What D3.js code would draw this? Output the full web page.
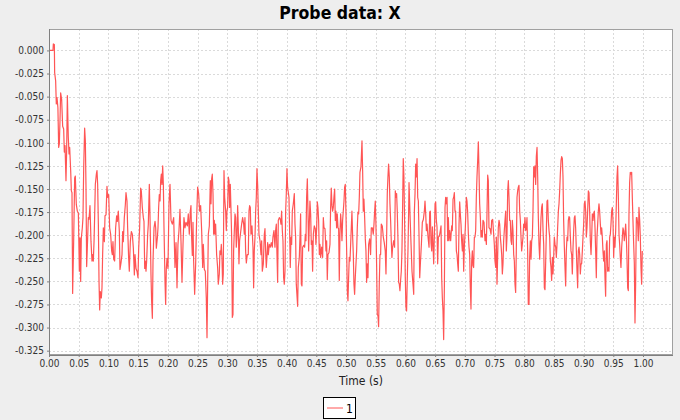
<!DOCTYPE html>
<html><head><meta charset="utf-8">
<script src="https://cdn.jsdelivr.net/npm/d3@7"></script>
<style>
html,body{margin:0;padding:0;background:#eeeeee;}
svg{display:block;}
</style></head>
<body>
<svg id="chart" width="680" height="420"></svg>
<script>
const chartTitle = "Probe data: X";
const xLabel = "Time (s)";
const seriesName = "1";
const xTicks = d3.range(0, 21).map(i => i * 0.05);
const yTicks = d3.range(0, 14).map(i => -i * 0.025);

// [time (s), value]
const seg1 = [[0,0],[0.0067,0],[0.0073,0.007],[0.009,0.0065],[0.0095,-0.024],[0.0112,-0.033],[0.0123,-0.058],[0.0135,-0.051],[0.015,-0.062],[0.0163,-0.105],[0.0174,-0.101],[0.0185,-0.076],[0.0196,-0.046],[0.0213,-0.053],[0.023,-0.082],[0.0247,-0.085],[0.0258,-0.11],[0.027,-0.103],[0.0286,-0.141],[0.0297,-0.109],[0.0309,-0.049],[0.0325,-0.094],[0.0337,-0.112],[0.0348,-0.105],[0.0365,-0.13],[0.0376,-0.152],[0.0387,-0.154],[0.0398,-0.263],[0.0415,-0.207],[0.0432,-0.138],[0.0443,-0.136],[0.046,-0.167],[0.0477,-0.174],[0.0494,-0.176],[0.0511,-0.239],[0.0522,-0.203],[0.0533,-0.25],[0.0544,-0.203],[0.0561,-0.192],[0.0572,-0.181],[0.0584,-0.127],[0.06,-0.084],[0.0612,-0.098],[0.0623,-0.149],[0.0634,-0.234],[0.0645,-0.214],[0.0662,-0.181],[0.0673,-0.183],[0.069,-0.168],[0.0707,-0.207],[0.0724,-0.228],[0.0735,-0.221],[0.0746,-0.228],[0.0758,-0.207],[0.0769,-0.178],[0.078,-0.145],[0.0797,-0.134],[0.0808,-0.13],[0.0819,-0.145],[0.0831,-0.188],[0.0842,-0.25],[0.0853,-0.281],[0.0864,-0.261],[0.0881,-0.268],[0.0892,-0.257],[0.0903,-0.221],[0.0915,-0.192],[0.0932,-0.207],[0.0943,-0.179],[0.096,-0.178],[0.0976,-0.147],[0.0988,-0.159],[0.1005,-0.156],[0.1021,-0.192],[0.1038,-0.199],[0.1055,-0.217],[0.1066,-0.221],[0.1077,-0.207],[0.1089,-0.226],[0.1105,-0.228],[0.1122,-0.192],[0.1139,-0.179],[0.115,-0.185],[0.1167,-0.174],[0.1184,-0.196],[0.1195,-0.237],[0.1212,-0.23],[0.1229,-0.221],[0.124,-0.196],[0.1251,-0.207],[0.1268,-0.181],[0.1285,-0.167],[0.1296,-0.154],[0.1313,-0.163],[0.1324,-0.192],[0.1341,-0.225],[0.1352,-0.239],[0.1369,-0.207],[0.1386,-0.196],[0.1403,-0.199],[0.142,-0.214],[0.1437,-0.243],[0.1448,-0.221],[0.1465,-0.236],[0.1481,-0.239],[0.1498,-0.246],[0.151,-0.214],[0.1526,-0.192],[0.1543,-0.149],[0.1554,-0.152],[0.1571,-0.17],[0.1588,-0.181],[0.1599,-0.185],[0.1611,-0.236],[0.1622,-0.228],[0.1633,-0.239],[0.1644,-0.228],[0.1661,-0.199],[0.1672,-0.188],[0.1689,-0.145],[0.17,-0.178],[0.1717,-0.243],[0.1728,-0.272],[0.174,-0.29],[0.1751,-0.228],[0.1768,-0.192],[0.1785,-0.185],[0.1796,-0.192],[0.1807,-0.214],[0.1824,-0.203],[0.1835,-0.192],[0.1846,-0.17],[0.1857,-0.156],[0.1869,-0.163],[0.188,-0.141],[0.1891,-0.134],[0.1902,-0.145],[0.1914,-0.125],[0.1925,-0.145],[0.1936,-0.192],[0.1953,-0.25],[0.1964,-0.275],[0.1975,-0.236],[0.1987,-0.225],[0.2003,-0.236]];

const seg2 = [[0.2020,-0.166],[0.2037,-0.145],[0.2054,-0.184],[0.2076,-0.188],[0.2099,-0.181],[0.2121,-0.235],[0.2138,-0.208],[0.2155,-0.257],[0.2171,-0.210],[0.2188,-0.195],[0.2205,-0.172],[0.2222,-0.206],[0.2239,-0.251],[0.2256,-0.210],[0.2272,-0.181],[0.2289,-0.192],[0.2306,-0.186],[0.2329,-0.190],[0.2345,-0.177],[0.2362,-0.199],[0.2379,-0.174],[0.2390,-0.168],[0.2401,-0.202],[0.2413,-0.222],[0.2424,-0.186],[0.2435,-0.228],[0.2452,-0.264],[0.2469,-0.231],[0.2486,-0.181],[0.2502,-0.148],[0.2519,-0.155],[0.2536,-0.174],[0.2553,-0.168],[0.2570,-0.195],[0.2587,-0.235],[0.2598,-0.210],[0.2615,-0.237],[0.2631,-0.239],[0.2648,-0.268],[0.2660,-0.311],[0.2671,-0.253],[0.2682,-0.199],[0.2699,-0.190],[0.2716,-0.141],[0.2727,-0.166],[0.2738,-0.139],[0.2749,-0.134],[0.2761,-0.155],[0.2772,-0.199],[0.2783,-0.184],[0.2794,-0.199],[0.2805,-0.188],[0.2822,-0.221],[0.2839,-0.235],[0.2850,-0.253],[0.2867,-0.242],[0.2878,-0.217],[0.2890,-0.221],[0.2901,-0.210],[0.2912,-0.224],[0.2923,-0.253],[0.2934,-0.242],[0.2946,-0.130],[0.2957,-0.159],[0.2974,-0.174],[0.2985,-0.195],[0.2996,-0.174],[0.3007,-0.170],[0.3019,-0.137],[0.3030,-0.141],[0.3041,-0.170],[0.3052,-0.145],[0.3063,-0.170],[0.3075,-0.202],[0.3086,-0.289],[0.3097,-0.286],[0.3108,-0.217],[0.3120,-0.195],[0.3131,-0.177],[0.3142,-0.181],[0.3153,-0.213],[0.3164,-0.202],[0.3176,-0.168],[0.3187,-0.192],[0.3198,-0.231],[0.3209,-0.206],[0.3226,-0.197],[0.3243,-0.188],[0.3260,-0.181],[0.3277,-0.188],[0.3288,-0.199],[0.3299,-0.181],[0.3310,-0.217],[0.3322,-0.230],[0.3338,-0.221],[0.3355,-0.221],[0.3367,-0.174],[0.3378,-0.168],[0.3389,-0.170],[0.3400,-0.199],[0.3417,-0.190],[0.3434,-0.213],[0.3445,-0.257],[0.3456,-0.217],[0.3468,-0.202],[0.3479,-0.174],[0.3490,-0.159],[0.3501,-0.128],[0.3513,-0.146],[0.3524,-0.174],[0.3535,-0.199],[0.3552,-0.206],[0.3569,-0.221],[0.3580,-0.206],[0.3591,-0.239],[0.3608,-0.231],[0.3625,-0.199],[0.3636,-0.193],[0.3647,-0.217],[0.3658,-0.235],[0.3669,-0.224],[0.3681,-0.208],[0.3692,-0.221],[0.3709,-0.210],[0.3726,-0.213],[0.3742,-0.208],[0.3759,-0.213],[0.3770,-0.202],[0.3787,-0.195],[0.3804,-0.213],[0.3815,-0.195],[0.3827,-0.188],[0.3838,-0.221],[0.3849,-0.251],[0.3860,-0.184],[0.3877,-0.181],[0.3894,-0.183],[0.3905,-0.188],[0.3916,-0.174],[0.3928,-0.195],[0.3939,-0.206],[0.3950,-0.246],[0.3961,-0.253],[0.3973,-0.239],[0.3984,-0.174],[0.3995,-0.155],[0.4006,-0.128],[0.4017,-0.148]];

const seg3 = [[0.4040,-0.159],[0.4062,-0.235],[0.4074,-0.202],[0.4085,-0.210],[0.4096,-0.174],[0.4113,-0.166],[0.4130,-0.155],[0.4141,-0.188],[0.4152,-0.202],[0.4163,-0.253],[0.4186,-0.277],[0.4197,-0.235],[0.4214,-0.224],[0.4225,-0.202],[0.4236,-0.177],[0.4248,-0.253],[0.4259,-0.255],[0.4270,-0.213],[0.4287,-0.211],[0.4304,-0.213],[0.4315,-0.199],[0.4326,-0.206],[0.4337,-0.159],[0.4349,-0.139],[0.4360,-0.174],[0.4371,-0.217],[0.4382,-0.188],[0.4393,-0.163],[0.4405,-0.177],[0.4416,-0.210],[0.4427,-0.206],[0.4438,-0.239],[0.4450,-0.199],[0.4466,-0.190],[0.4483,-0.193],[0.4494,-0.210],[0.4506,-0.192],[0.4517,-0.164],[0.4528,-0.170],[0.4539,-0.184],[0.4551,-0.221],[0.4562,-0.210],[0.4573,-0.224],[0.4590,-0.213],[0.4607,-0.224],[0.4618,-0.181],[0.4629,-0.192],[0.4646,-0.193],[0.4663,-0.217],[0.4674,-0.206],[0.4685,-0.248],[0.4696,-0.221],[0.4713,-0.219],[0.4730,-0.210],[0.4741,-0.170],[0.4752,-0.149],[0.4764,-0.168],[0.4775,-0.174],[0.4786,-0.170],[0.4797,-0.159],[0.4809,-0.150],[0.4820,-0.184],[0.4831,-0.174],[0.4842,-0.192],[0.4853,-0.177],[0.4865,-0.192],[0.4876,-0.193],[0.4887,-0.249],[0.4898,-0.199],[0.4910,-0.177],[0.4921,-0.188],[0.4932,-0.206],[0.4943,-0.184],[0.4954,-0.174],[0.4966,-0.163],[0.4977,-0.148],[0.4988,-0.145],[0.4999,-0.174],[0.5011,-0.217],[0.5022,-0.260],[0.5033,-0.271],[0.5044,-0.246],[0.5055,-0.224],[0.5067,-0.228],[0.5078,-0.210],[0.5089,-0.192],[0.5100,-0.174],[0.5112,-0.202],[0.5123,-0.221],[0.5134,-0.253],[0.5145,-0.264],[0.5156,-0.246],[0.5168,-0.231],[0.5179,-0.217],[0.5190,-0.192],[0.5201,-0.175],[0.5213,-0.177],[0.5224,-0.159],[0.5235,-0.132],[0.5252,-0.126],[0.5269,-0.098],[0.5280,-0.130],[0.5291,-0.174],[0.5302,-0.161],[0.5314,-0.181],[0.5325,-0.204],[0.5336,-0.217],[0.5347,-0.251],[0.5358,-0.231],[0.5370,-0.246],[0.5381,-0.210],[0.5398,-0.204],[0.5414,-0.221],[0.5426,-0.192],[0.5443,-0.192],[0.5459,-0.199],[0.5471,-0.188],[0.5482,-0.174],[0.5493,-0.163],[0.5504,-0.188],[0.5515,-0.231],[0.5527,-0.286],[0.5538,-0.287],[0.5549,-0.299],[0.5560,-0.253],[0.5572,-0.221],[0.5583,-0.221],[0.5594,-0.188],[0.5611,-0.190],[0.5628,-0.202],[0.5644,-0.208],[0.5661,-0.217],[0.5673,-0.242],[0.5684,-0.202],[0.5695,-0.155],[0.5706,-0.137],[0.5717,-0.123],[0.5729,-0.137],[0.5740,-0.166],[0.5751,-0.184],[0.5762,-0.206],[0.5773,-0.224],[0.5785,-0.213],[0.5802,-0.206],[0.5818,-0.213],[0.5830,-0.152],[0.5841,-0.159],[0.5852,-0.155],[0.5863,-0.174],[0.5874,-0.202],[0.5886,-0.251],[0.5897,-0.253],[0.5908,-0.260],[0.5919,-0.249],[0.5931,-0.239],[0.5942,-0.217],[0.5953,-0.170],[0.5964,-0.117],[0.5975,-0.137],[0.5987,-0.188],[0.5998,-0.246],[0.6009,-0.278],[0.6020,-0.282],[0.6032,-0.246],[0.6043,-0.217],[0.6054,-0.177]];

const seg4 = [[0.6061,-0.143],[0.6078,-0.178],[0.6095,-0.210],[0.6111,-0.239],[0.6128,-0.253],[0.6140,-0.264],[0.6151,-0.174],[0.6162,-0.155],[0.6173,-0.123],[0.6184,-0.137],[0.6196,-0.117],[0.6207,-0.159],[0.6218,-0.163],[0.6229,-0.199],[0.6241,-0.246],[0.6252,-0.231],[0.6269,-0.210],[0.6285,-0.186],[0.6302,-0.183],[0.6319,-0.174],[0.6330,-0.163],[0.6342,-0.177],[0.6353,-0.195],[0.6364,-0.188],[0.6381,-0.202],[0.6398,-0.213],[0.6409,-0.175],[0.6420,-0.174],[0.6431,-0.208],[0.6443,-0.217],[0.6454,-0.191],[0.6465,-0.210],[0.6476,-0.231],[0.6487,-0.202],[0.6499,-0.166],[0.6510,-0.164],[0.6521,-0.184],[0.6532,-0.191],[0.6543,-0.231],[0.6555,-0.202],[0.6572,-0.201],[0.6588,-0.195],[0.6600,-0.190],[0.6611,-0.246],[0.6622,-0.268],[0.6633,-0.282],[0.6644,-0.313],[0.6656,-0.257],[0.6667,-0.170],[0.6678,-0.159],[0.6689,-0.166],[0.6701,-0.159],[0.6712,-0.206],[0.6723,-0.181],[0.6734,-0.206],[0.6745,-0.195],[0.6762,-0.206],[0.6779,-0.190],[0.6790,-0.195],[0.6802,-0.161],[0.6813,-0.159],[0.6824,-0.154],[0.6835,-0.174],[0.6846,-0.174],[0.6858,-0.217],[0.6869,-0.221],[0.6880,-0.231],[0.6891,-0.239],[0.6903,-0.188],[0.6914,-0.164],[0.6925,-0.177],[0.6936,-0.188],[0.6947,-0.206],[0.6959,-0.217],[0.6970,-0.199],[0.6981,-0.239],[0.6992,-0.213],[0.7009,-0.192],[0.7026,-0.159],[0.7037,-0.163],[0.7048,-0.175],[0.7060,-0.199],[0.7071,-0.213],[0.7082,-0.221],[0.7093,-0.257],[0.7104,-0.280],[0.7116,-0.228],[0.7127,-0.217],[0.7138,-0.233],[0.7149,-0.235],[0.7161,-0.202],[0.7172,-0.202],[0.7183,-0.195],[0.7194,-0.159],[0.7205,-0.137],[0.7217,-0.119],[0.7228,-0.099],[0.7239,-0.130],[0.7250,-0.166],[0.7262,-0.181],[0.7273,-0.202],[0.7284,-0.195],[0.7295,-0.202],[0.7306,-0.184],[0.7323,-0.186],[0.7340,-0.206],[0.7351,-0.199],[0.7363,-0.210],[0.7374,-0.174],[0.7385,-0.135],[0.7396,-0.141],[0.7407,-0.192],[0.7424,-0.193],[0.7441,-0.199],[0.7452,-0.184],[0.7469,-0.183],[0.7486,-0.199],[0.7497,-0.210],[0.7508,-0.228],[0.7520,-0.235],[0.7531,-0.202],[0.7542,-0.253],[0.7553,-0.224],[0.7564,-0.192],[0.7576,-0.184],[0.7587,-0.188],[0.7598,-0.202],[0.7609,-0.210],[0.7621,-0.221],[0.7632,-0.242],[0.7643,-0.231],[0.7654,-0.206],[0.7665,-0.195],[0.7677,-0.184],[0.7688,-0.174],[0.7699,-0.217],[0.7710,-0.202],[0.7722,-0.152],[0.7733,-0.141],[0.7744,-0.159],[0.7755,-0.184],[0.7766,-0.184],[0.7778,-0.206],[0.7789,-0.210],[0.7800,-0.184],[0.7811,-0.195],[0.7823,-0.221],[0.7834,-0.228],[0.7845,-0.253],[0.7856,-0.262],[0.7867,-0.217],[0.7879,-0.159],[0.7890,-0.152],[0.7901,-0.148],[0.7912,-0.146],[0.7924,-0.174],[0.7935,-0.184],[0.7946,-0.202],[0.7957,-0.217],[0.7968,-0.210],[0.7980,-0.202],[0.7991,-0.188],[0.8002,-0.192],[0.8013,-0.181],[0.8025,-0.195],[0.8036,-0.192],[0.8047,-0.181],[0.8058,-0.217],[0.8069,-0.275]];

const seg5 = [[0.8081,-0.275],[0.8092,-0.224],[0.8103,-0.206],[0.8115,-0.226],[0.8126,-0.206],[0.8137,-0.202],[0.8148,-0.174],[0.8160,-0.126],[0.8171,-0.137],[0.8182,-0.125],[0.8193,-0.145],[0.8204,-0.115],[0.8216,-0.105],[0.8227,-0.137],[0.8238,-0.181],[0.8249,-0.210],[0.8261,-0.226],[0.8272,-0.202],[0.8283,-0.181],[0.8294,-0.170],[0.8305,-0.166],[0.8317,-0.195],[0.8328,-0.210],[0.8339,-0.257],[0.8350,-0.259],[0.8362,-0.228],[0.8373,-0.195],[0.8384,-0.163],[0.8395,-0.162],[0.8406,-0.184],[0.8418,-0.195],[0.8429,-0.202],[0.8440,-0.228],[0.8451,-0.235],[0.8462,-0.249],[0.8474,-0.224],[0.8485,-0.242],[0.8496,-0.224],[0.8507,-0.202],[0.8519,-0.210],[0.8530,-0.213],[0.8541,-0.224],[0.8552,-0.210],[0.8563,-0.192],[0.8575,-0.174],[0.8586,-0.166],[0.8597,-0.152],[0.8608,-0.134],[0.8620,-0.119],[0.8631,-0.115],[0.8642,-0.117],[0.8653,-0.137],[0.8664,-0.184],[0.8676,-0.213],[0.8687,-0.235],[0.8698,-0.255],[0.8709,-0.217],[0.8721,-0.202],[0.8732,-0.206],[0.8743,-0.184],[0.8754,-0.180],[0.8765,-0.181],[0.8777,-0.202],[0.8788,-0.217],[0.8799,-0.221],[0.8810,-0.242],[0.8822,-0.213],[0.8833,-0.195],[0.8844,-0.181],[0.8855,-0.179],[0.8866,-0.192],[0.8878,-0.217],[0.8889,-0.239],[0.8900,-0.257],[0.8911,-0.217],[0.8923,-0.213],[0.8934,-0.221],[0.8945,-0.242],[0.8956,-0.231],[0.8967,-0.231],[0.8979,-0.217],[0.8990,-0.202],[0.9001,-0.188],[0.9012,-0.166],[0.9024,-0.163],[0.9035,-0.174],[0.9046,-0.202],[0.9057,-0.192],[0.9068,-0.174],[0.9080,-0.152],[0.9091,-0.154],[0.9102,-0.174],[0.9113,-0.206],[0.9125,-0.221],[0.9136,-0.202],[0.9147,-0.177],[0.9158,-0.184],[0.9169,-0.177],[0.9181,-0.174],[0.9192,-0.192],[0.9203,-0.217],[0.9214,-0.246],[0.9225,-0.202],[0.9237,-0.188],[0.9248,-0.174],[0.9259,-0.166],[0.9270,-0.174],[0.9282,-0.188],[0.9293,-0.199],[0.9304,-0.192],[0.9315,-0.202],[0.9326,-0.217],[0.9338,-0.228],[0.9349,-0.217],[0.9360,-0.246],[0.9371,-0.266],[0.9383,-0.210],[0.9394,-0.206],[0.9405,-0.239],[0.9416,-0.235],[0.9427,-0.239],[0.9439,-0.202],[0.9450,-0.199],[0.9461,-0.188],[0.9472,-0.174],[0.9484,-0.170],[0.9495,-0.184],[0.9506,-0.224],[0.9517,-0.202],[0.9528,-0.213],[0.9540,-0.195],[0.9551,-0.166],[0.9562,-0.137],[0.9573,-0.125],[0.9584,-0.155],[0.9596,-0.199],[0.9607,-0.210],[0.9618,-0.224],[0.9629,-0.235],[0.9641,-0.213],[0.9652,-0.202],[0.9663,-0.192],[0.9674,-0.195],[0.9685,-0.206],[0.9697,-0.199],[0.9708,-0.188],[0.9719,-0.202],[0.9730,-0.224],[0.9742,-0.257],[0.9753,-0.260],[0.9764,-0.177],[0.9775,-0.143],[0.9786,-0.132],[0.9798,-0.134],[0.9809,-0.132],[0.9820,-0.159],[0.9831,-0.184],[0.9843,-0.210],[0.9854,-0.231],[0.9865,-0.295],[0.9876,-0.253],[0.9888,-0.181],[0.9899,-0.181],[0.9910,-0.188],[0.9921,-0.206],[0.9932,-0.170],[0.9944,-0.184],[0.9955,-0.202],[0.9966,-0.235],[0.9977,-0.253],[0.9988,-0.217]];

const series1 = [].concat(seg1, seg2, seg3, seg4, seg5);

const W = 680, H = 420;
const plot = {left: 49, top: 29, right: 673, bottom: 355};
const svg = d3.select("#chart");

const x = d3.scaleLinear().domain([0, 1.0505]).range([plot.left, plot.right]);
const y = d3.scaleLinear().domain([-0.3297, 0.0232]).range([plot.bottom, plot.top]);

const fmtY = v => d3.format(".3f")(v).replace("\u2212", "-");
const fmtX = v => d3.format(".2f")(v);

// background
svg.append("rect").attr("width", W).attr("height", H).attr("fill", "#eeeeee");
svg.append("rect").attr("x", plot.left).attr("y", plot.top)
  .attr("width", plot.right - plot.left).attr("height", plot.bottom - plot.top)
  .attr("fill", "#ffffff");

// grid
const grid = svg.append("g").attr("stroke", "#dadada").attr("stroke-width", 1)
  .attr("stroke-dasharray", "2,2").attr("shape-rendering", "crispEdges");
grid.selectAll(".gx").data(xTicks.slice(1)).enter().append("line")
  .attr("x1", d => Math.round(x(d)) + 0.5).attr("x2", d => Math.round(x(d)) + 0.5)
  .attr("y1", plot.top).attr("y2", plot.bottom);
grid.selectAll(".gy").data(yTicks).enter().append("line")
  .attr("y1", d => Math.round(y(d)) + 0.5).attr("y2", d => Math.round(y(d)) + 0.5)
  .attr("x1", plot.left).attr("x2", plot.right);

// series line
const clipId = "plotclip";
svg.append("clipPath").attr("id", clipId).append("rect")
  .attr("x", plot.left).attr("y", plot.top)
  .attr("width", plot.right - plot.left).attr("height", plot.bottom - plot.top);
const line = d3.line().x(d => x(d[0])).y(d => y(d[1]));
svg.append("path").datum(series1).attr("clip-path", `url(#${clipId})`)
  .attr("d", line).attr("fill", "none").attr("stroke", "#ff5555")
  .attr("stroke-width", 1.2).attr("stroke-linejoin", "round");

// outline
svg.append("rect").attr("x", plot.left + 0.5).attr("y", plot.top + 0.5)
  .attr("width", plot.right - plot.left - 1).attr("height", plot.bottom - plot.top - 1)
  .attr("fill", "none").attr("stroke", "#a0a0a0").attr("stroke-width", 1);

// axes
const axisFont = "'DejaVu Sans Condensed', 'DejaVu Sans', sans-serif";
const yAxis = d3.axisLeft(y).tickValues(yTicks).tickFormat(fmtY).tickSize(2).tickPadding(3);
const gy = svg.append("g").attr("transform", `translate(${plot.left},0)`).call(yAxis);
const xAxis = d3.axisBottom(x).tickValues(xTicks).tickFormat(fmtX).tickSize(2).tickPadding(3);
const gx = svg.append("g").attr("transform", `translate(0,${plot.bottom})`).call(xAxis);
[gx, gy].forEach(g => {
  g.select(".domain").attr("stroke", "#808080");
  g.selectAll(".tick line").attr("stroke", "#808080");
  g.selectAll(".tick text").attr("fill", "#333333")
    .style("font-family", axisFont).style("font-size", "10px");
});
gy.select(".domain").attr("d", `M0.5,${plot.top}V${plot.bottom}`);
gx.select(".domain").attr("d", `M${plot.left},0.5H${plot.right}`);

// title
svg.append("text").attr("x", W / 2).attr("y", 19).attr("text-anchor", "middle")
  .style("font-family", axisFont).style("font-weight", "bold").style("font-size", "17.5px")
  .attr("fill", "#000").text(chartTitle);

// x label
svg.append("text").attr("x", (plot.left + plot.right) / 2).attr("y", 385).attr("text-anchor", "middle")
  .style("font-family", axisFont).style("font-size", "12px").attr("fill", "#222").text(xLabel);

// legend
const lg = svg.append("g");
lg.append("rect").attr("x", 323.5).attr("y", 397.5).attr("width", 32).attr("height", 21)
  .attr("fill", "#ffffff").attr("stroke", "#000").attr("stroke-width", 1);
lg.append("line").attr("x1", 327).attr("x2", 343).attr("y1", 408).attr("y2", 408)
  .attr("stroke", "#ff5555").attr("stroke-width", 1);
lg.append("text").attr("x", 346).attr("y", 412.5)
  .style("font-family", axisFont).style("font-size", "12px").attr("fill", "#000").text(seriesName);
</script>
</body></html>
